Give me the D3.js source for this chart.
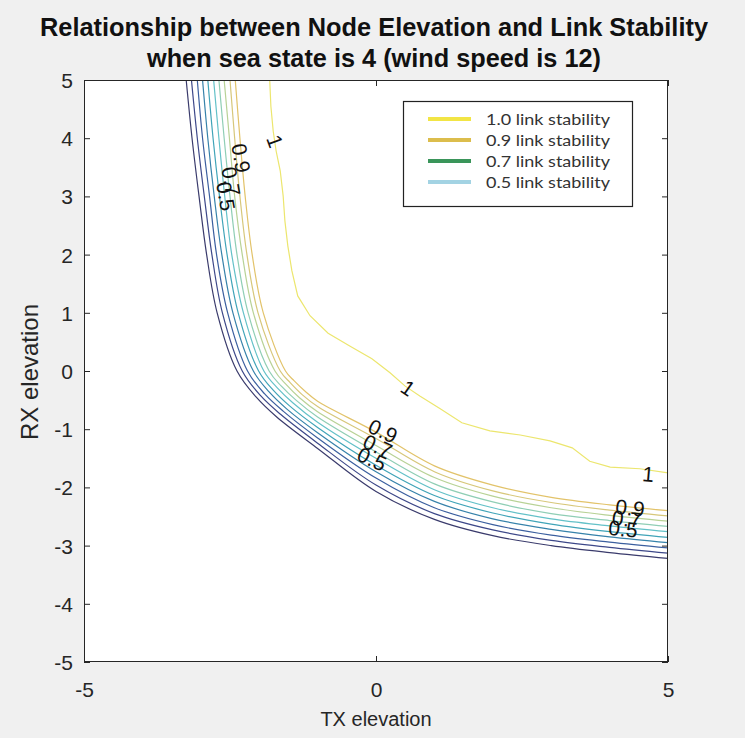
<!DOCTYPE html>
<html>
<head>
<meta charset="utf-8">
<script src="https://cdn.jsdelivr.net/npm/d3@7"></script>
<style>
  html, body { margin: 0; padding: 0; background: #f0f0f0; }
  svg { display: block; }
</style>
</head>
<body>
<svg id="chart" width="745" height="738"></svg>
<script>
// ---------------- DATA ----------------
const titleLines = ["Relationship between Node Elevation and Link Stability", "when sea state is 4 (wind speed is 12)"];
const xLabel = "TX elevation";
const yLabel = "RX elevation";
const xTicks = [-5, 0, 5];
const yTicks = [-5, -4, -3, -2, -1, 0, 1, 2, 3, 4, 5];

const contourLevels = [0, 0.1, 0.2, 0.3, 0.4, 0.5, 0.6, 0.7, 0.8, 0.9, 1.0];

// contour polylines [TX, RX], one per level
const c00 = [[-3.25,5],[-3.15,4],[-3.03,3],[-2.90,2],[-2.72,1],[-2.38,0],[-2.05,-0.45],[-1.70,-0.79],[-1,-1.33],[0,-2.07],[1,-2.55],[2,-2.83],[3,-3.00],[4,-3.12],[5,-3.22]];
const c01 = [[-3.16,5],[-3.06,4],[-2.94,3],[-2.81,2],[-2.63,1],[-2.29,0],[-1.98,-0.42],[-1.64,-0.74],[-1,-1.24],[0,-1.96],[1,-2.45],[2,-2.73],[3,-2.91],[4,-3.03],[5,-3.13]];
const c02 = [[-3.06,5],[-2.97,4],[-2.85,3],[-2.73,2],[-2.54,1],[-2.20,0],[-1.91,-0.39],[-1.59,-0.69],[-1,-1.15],[0,-1.84],[1,-2.35],[2,-2.64],[3,-2.82],[4,-2.94],[5,-3.04]];
const c03 = [[-2.97,5],[-2.88,4],[-2.77,3],[-2.64,2],[-2.45,1],[-2.10,0],[-1.83,-0.36],[-1.53,-0.65],[-1,-1.06],[0,-1.73],[1,-2.24],[2,-2.54],[3,-2.72],[4,-2.85],[5,-2.95]];
const c04 = [[-2.88,5],[-2.79,4],[-2.68,3],[-2.55,2],[-2.36,1],[-2.01,0],[-1.76,-0.33],[-1.48,-0.60],[-1,-0.97],[0,-1.62],[1,-2.14],[2,-2.44],[3,-2.63],[4,-2.76],[5,-2.86]];
const c05 = [[-2.78,5],[-2.69,4],[-2.59,3],[-2.47,2],[-2.27,1],[-1.92,0],[-1.69,-0.29],[-1.42,-0.55],[-1,-0.88],[0,-1.50],[1,-2.04],[2,-2.35],[3,-2.54],[4,-2.66],[5,-2.76]];
const c06 = [[-2.69,5],[-2.60,4],[-2.50,3],[-2.38,2],[-2.19,1],[-1.83,0],[-1.62,-0.26],[-1.37,-0.50],[-1,-0.79],[0,-1.39],[1,-1.94],[2,-2.25],[3,-2.45],[4,-2.57],[5,-2.67]];
const c07 = [[-2.60,5],[-2.51,4],[-2.42,3],[-2.29,2],[-2.10,1],[-1.73,0],[-1.54,-0.23],[-1.31,-0.46],[-1,-0.70],[0,-1.28],[1,-1.83],[2,-2.15],[3,-2.35],[4,-2.48],[5,-2.58]];
const c08 = [[-2.50,5],[-2.42,4],[-2.33,3],[-2.21,2],[-2.02,1],[-1.64,0],[-1.47,-0.20],[-1.26,-0.41],[-1,-0.61],[0,-1.16],[1,-1.73],[2,-2.06],[3,-2.26],[4,-2.39],[5,-2.49]];
const c09 = [[-2.41,5],[-2.33,4],[-2.24,3],[-2.12,2],[-1.93,1],[-1.55,0],[-1.40,-0.17],[-1.20,-0.36],[-1,-0.52],[0,-1.05],[1,-1.63],[2,-1.96],[3,-2.17],[4,-2.30],[5,-2.40]];
const c10 = [[-1.82,5],[-1.80,4.55],[-1.76,4.12],[-1.71,3.78],[-1.64,3.44],[-1.59,3.01],[-1.56,2.58],[-1.51,2.15],[-1.44,1.72],[-1.34,1.29],[-1.13,0.95],[-0.82,0.65],[-0.45,0.43],[-0.07,0.21],[0.24,-0.03],[0.50,-0.26],[0.75,-0.43],[1.10,-0.65],[1.47,-0.89],[1.95,-1.03],[2.47,-1.10],[2.98,-1.20],[3.36,-1.32],[3.66,-1.55],[4.01,-1.65],[4.52,-1.68],[5,-1.75]];

const contourColors = ["#3a3b6c","#3d4889","#3b5f9f","#3682aa","#40a4b8","#63c1c8","#8fceb5","#b8d296","#d7c77a","#e2c36a","#ece66e"];

// contour labels
const labelText  = ["1", "0.9", "0.7", "0.5", "1", "0.9", "0.7", "0.5", "1", "0.9", "0.7", "0.5"];
const labelX     = [-1.73, -2.31, -2.48, -2.57, 0.55, 0.12, 0.03, -0.07, 4.66, 4.35, 4.29, 4.23];
const labelY     = [3.95, 3.66, 3.26, 3.00, -0.29, -1.03, -1.29, -1.51, -1.77, -2.35, -2.54, -2.71];
const labelAngle = [70, 80, 80, 80, 35, 25, 25, 25, 5, 6, 6, 6];

// legend
const legendText   = ["1.0 link stability", "0.9 link stability", "0.7 link stability", "0.5 link stability"];
const legendColors = ["#f2e545", "#dcbd4c", "#3a955a", "#a3d3e3"];

// ---------------- CHART ----------------
const svg = d3.select("#chart");
const W = 745, H = 738;
const pL = 84, pR = 668, pT = 80, pB = 662;

svg.append("rect").attr("width", W).attr("height", H).attr("fill", "#f0f0f0");

const x = d3.scaleLinear().domain([-5, 5]).range([pL, pR]);
const y = d3.scaleLinear().domain([-5, 5]).range([pB, pT]);

svg.append("rect")
  .attr("x", pL).attr("y", pT)
  .attr("width", pR - pL).attr("height", pB - pT)
  .attr("fill", "#ffffff");

const contours = [c00, c01, c02, c03, c04, c05, c06, c07, c08, c09, c10].map((pts, i) => ({
  level: contourLevels[i], pts, color: contourColors[i]
}));

svg.append("clipPath").attr("id", "clip")
  .append("rect").attr("x", pL).attr("y", pT).attr("width", pR - pL).attr("height", pB - pT);

const line = d3.line().x(d => x(d[0])).y(d => y(d[1])).curve(d3.curveCatmullRom.alpha(0.5));
const lineStep = d3.line().x(d => x(d[0])).y(d => y(d[1]));

const gC = svg.append("g").attr("clip-path", "url(#clip)");
gC.selectAll("path.contour")
  .data(contours)
  .join("path")
  .attr("class", "contour")
  .attr("d", d => d.level === 1 ? lineStep(d.pts) : line(d.pts))
  .attr("fill", "none")
  .attr("stroke", d => d.color)
  .attr("stroke-width", 1.2);

// contour labels
const labels = labelText.map((t, i) => ({ t, x: labelX[i], y: labelY[i], a: labelAngle[i] }));
svg.append("g").selectAll("text")
  .data(labels)
  .join("text")
  .attr("transform", d => `translate(${x(d.x)},${y(d.y)}) rotate(${d.a})`)
  .attr("text-anchor", "middle")
  .attr("dominant-baseline", "central")
  .attr("font-family", "'Liberation Sans', Arial, sans-serif")
  .attr("font-size", 21)
  .attr("fill", "#111")
  .text(d => d.t);

// axes
const fontAxis = "'Liberation Sans', Arial, Helvetica, sans-serif";
const fmt = d => String(d);
const axB = svg.append("g").attr("transform", `translate(0,${pB})`)
  .call(d3.axisBottom(x).tickValues(xTicks).tickSize(-6).tickPadding(20).tickFormat(fmt));
const axL = svg.append("g").attr("transform", `translate(${pL},0)`)
  .call(d3.axisLeft(y).tickValues(yTicks).tickSize(-6).tickPadding(11).tickFormat(fmt));
const axT = svg.append("g").attr("transform", `translate(0,${pT})`)
  .call(d3.axisTop(x).tickValues(xTicks).tickSize(-6).tickFormat(""));
const axR = svg.append("g").attr("transform", `translate(${pR},0)`)
  .call(d3.axisRight(y).tickValues(yTicks).tickSize(-6).tickFormat(""));
[axB, axL, axT, axR].forEach(g => {
  g.select(".domain").remove();
  g.selectAll(".tick line").attr("stroke", "#262626").attr("stroke-width", 1);
  g.selectAll(".tick text").attr("font-family", fontAxis).attr("font-size", 21).attr("fill", "#262626");
});
axL.selectAll(".tick text").attr("dy", "0.36em");

svg.append("rect")
  .attr("x", pL + 0.5).attr("y", pT + 0.5)
  .attr("width", pR - pL - 1).attr("height", pB - pT - 1)
  .attr("fill", "none").attr("stroke", "#262626").attr("stroke-width", 1);

// title
const titleWidths = [668, 454];
svg.append("g").selectAll("text")
  .data(titleLines)
  .join("text")
  .attr("x", 374)
  .attr("y", (d, i) => 36 + i * 31)
  .attr("text-anchor", "middle")
  .attr("font-family", fontAxis)
  .attr("font-weight", "bold")
  .attr("font-size", 25)
  .attr("textLength", (d, i) => titleWidths[i])
  .attr("lengthAdjust", "spacingAndGlyphs")
  .attr("fill", "#111")
  .text(d => d);

// axis labels
svg.append("text")
  .attr("x", 376).attr("y", 726)
  .attr("text-anchor", "middle")
  .attr("font-family", fontAxis).attr("font-size", 20).attr("fill", "#262626")
  .text(xLabel);
svg.append("text")
  .attr("transform", `translate(38,372) rotate(-90)`)
  .attr("text-anchor", "middle")
  .attr("font-family", fontAxis).attr("font-size", 24).attr("fill", "#262626")
  .text(yLabel);

// legend
const lg = svg.append("g").attr("transform", "translate(403,101)");
lg.append("rect").attr("x", 0.5).attr("y", 0.5).attr("width", 229).attr("height", 105)
  .attr("fill", "#ffffff").attr("stroke", "#222").attr("stroke-width", 1.2);
const rows = lg.selectAll("g.row").data(legendText).join("g")
  .attr("class", "row")
  .attr("transform", (d, i) => `translate(0,${18 + i * 21})`);
rows.append("line").attr("x1", 25).attr("x2", 68).attr("y1", 0).attr("y2", 0)
  .attr("stroke", (d, i) => legendColors[i]).attr("stroke-width", 4);
rows.append("text").attr("x", 83).attr("y", 0).attr("dy", "0.35em")
  .attr("font-family", "Lato, 'Open Sans', sans-serif").attr("font-size", 16).attr("fill", "#333")
  .attr("textLength", 124).attr("lengthAdjust", "spacingAndGlyphs")
  .text(d => d);
</script>
</body>
</html>
